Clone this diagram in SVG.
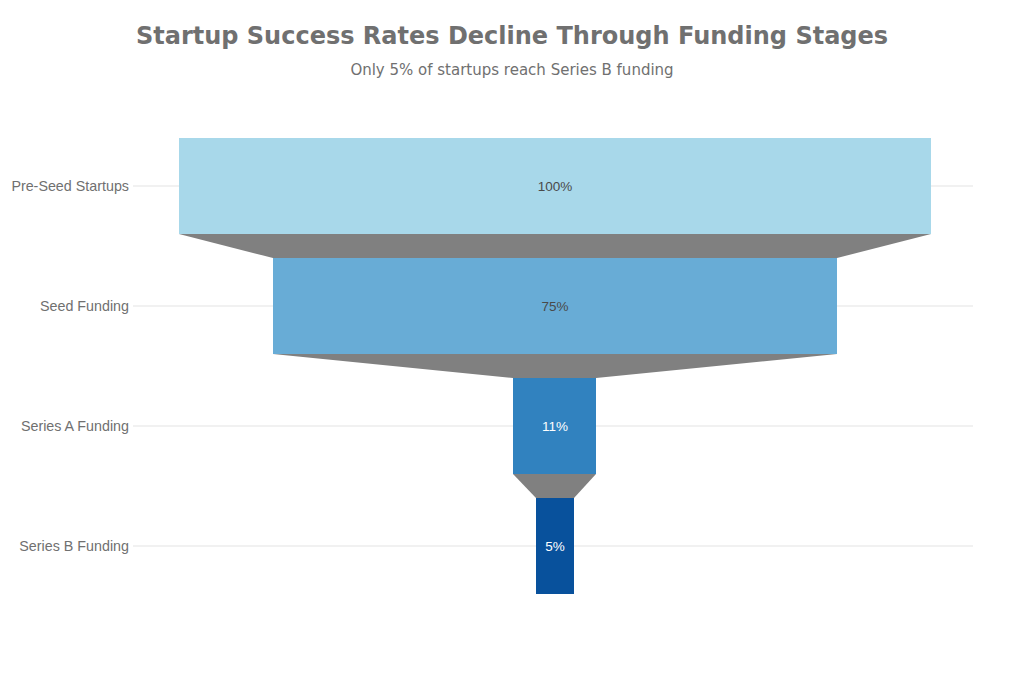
<svg xmlns="http://www.w3.org/2000/svg" width="1024" height="682" viewBox="0 0 1024 682">
<style>
.title{font-family:"DejaVu Sans",sans-serif;font-weight:bold;font-size:24px;fill:#707070}
.sub{font-family:"DejaVu Sans",sans-serif;font-size:15px;fill:#707070}
.lab{font-family:"Liberation Sans",Arial,sans-serif;font-size:14.3px;fill:#707070}
.val{font-family:"Liberation Sans",Arial,sans-serif;font-size:13.5px;text-anchor:middle}
.grid{stroke:#e3e3e3;stroke-width:1}
.conn{fill:#808080}
</style>
<rect width="1024" height="682" fill="#ffffff"/>
<text class="title" x="512" y="44" text-anchor="middle">Startup Success Rates Decline Through Funding Stages</text>
<text class="sub" x="512" y="75" text-anchor="middle">Only 5% of startups reach Series B funding</text>
<g id="gridlines">
<line class="grid" x1="133" y1="186" x2="973" y2="186"/>
<line class="grid" x1="133" y1="306" x2="973" y2="306"/>
<line class="grid" x1="133" y1="426" x2="973" y2="426"/>
<line class="grid" x1="133" y1="546" x2="973" y2="546"/>
</g>
<g id="connectors">
<polygon class="conn" points="179,234 931,234 837,258 273,258"/>
<polygon class="conn" points="273,354 837,354 596,378 513,378"/>
<polygon class="conn" points="513,474 596,474 574,498 536,498"/>
</g>
<g id="pre-seed">
<rect x="179" y="138" width="752" height="96" fill="#a8d8ea"/>
<text class="lab" x="129" y="191" text-anchor="end">Pre-Seed Startups</text>
<text class="val" x="555" y="191" fill="#4a4a4a">100%</text>
</g>
<g id="seed">
<rect x="273" y="258" width="564" height="96" fill="#68acd6"/>
<text class="lab" x="129" y="311" text-anchor="end">Seed Funding</text>
<text class="val" x="555" y="311" fill="#4a4a4a">75%</text>
</g>
<g id="series-a">
<rect x="513" y="378" width="83" height="96" fill="#3182bf"/>
<text class="lab" x="129" y="431" text-anchor="end">Series A Funding</text>
<text class="val" x="555" y="431" fill="#ffffff">11%</text>
</g>
<g id="series-b">
<rect x="536" y="498" width="38" height="96" fill="#08519c"/>
<text class="lab" x="129" y="551" text-anchor="end">Series B Funding</text>
<text class="val" x="555" y="551" fill="#ffffff">5%</text>
</g>
</svg>
